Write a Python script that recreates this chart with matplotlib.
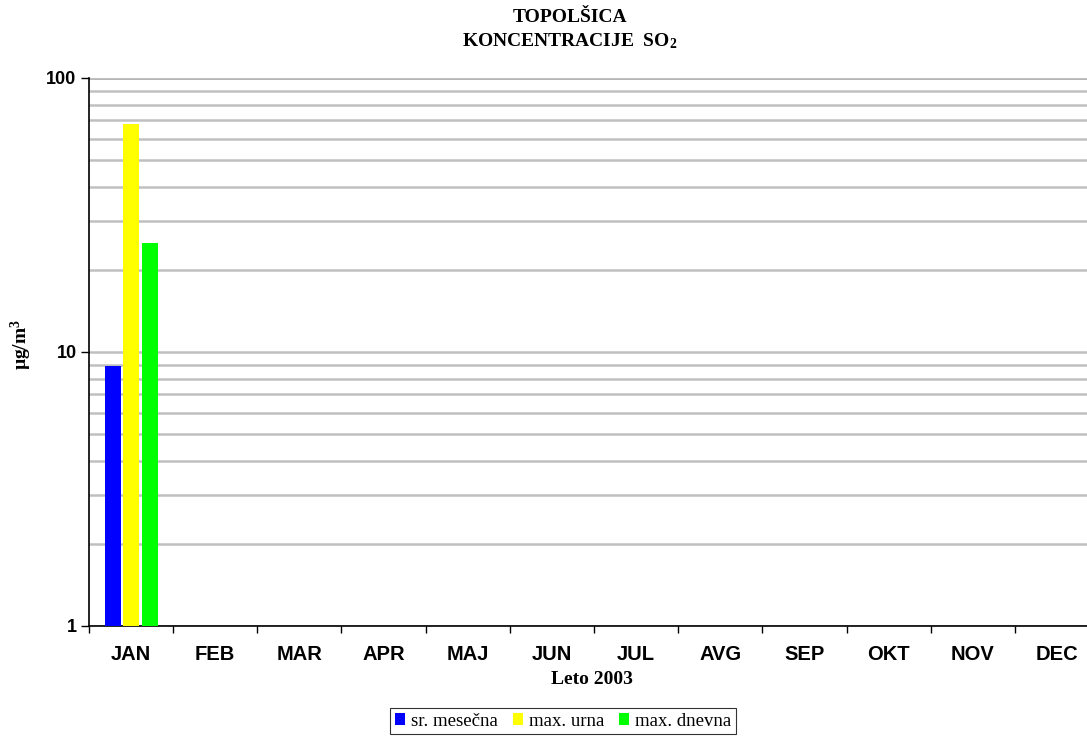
import numpy as np
import matplotlib
matplotlib.use("Agg")
import matplotlib.pyplot as plt
from matplotlib.ticker import LogLocator, NullFormatter, FixedLocator

# ─── Data ────────────────────────────────────────────────────────────────────
months = ["JAN", "FEB", "MAR", "APR", "MAJ", "JUN",
          "JUL", "AVG", "SEP", "OKT", "NOV", "DEC"]
sr_mesecna = [8.9] + [np.nan] * 11
max_urna = [68] + [np.nan] * 11
max_dnevna = [25] + [np.nan] * 11
series_names = ["sr. mesečna", "max. urna", "max. dnevna"]
series_colors = ["#0000ff", "#ffff00", "#00ff00"]

plt.rcParams["mathtext.fontset"] = "custom"
plt.rcParams["mathtext.rm"] = "Liberation Serif:bold"
plt.rcParams["mathtext.it"] = "Liberation Serif:bold"
plt.rcParams["mathtext.bf"] = "Liberation Serif:bold"

W, H = 1087, 736
fig = plt.figure(figsize=(W / 100, H / 100), dpi=100)
# axes extends slightly past the right edge, like the original (clipped)
left, right, top, bottom = 89, 1099, 78, 626
ax = fig.add_axes([left / W, 1 - bottom / H, (right - left) / W, (bottom - top) / H])

x = np.arange(len(months))
bw = 0.19
offsets = [-0.22, 0.0, 0.22]
for vals, name, col, off in zip([sr_mesecna, max_urna, max_dnevna],
                                series_names, series_colors, offsets):
    ax.bar(x + off, vals, width=bw, color=col, label=name, zorder=3)

ax.set_yscale("log")
ax.set_ylim(1, 100)
ax.set_xlim(-0.5, len(months) - 0.5)

# gridlines at every minor + major step
ax.yaxis.set_major_locator(FixedLocator([1, 10, 100]))
ax.yaxis.set_minor_locator(LogLocator(base=10, subs=np.arange(2, 10)))
ax.yaxis.set_minor_formatter(NullFormatter())
ax.set_yticklabels(["1", "10", "100"], fontfamily="Liberation Sans",
                   fontweight="bold", fontsize=13)
ax.grid(True, which="both", axis="y", color="#c0c0c0", linewidth=1.8, zorder=0)
ax.tick_params(axis="y", which="minor", length=0)
ax.tick_params(axis="y", which="major", length=6, width=1, direction="out", pad=3)

# x ticks between categories, labels centred
ax.set_xticks(x)
ax.set_xticklabels(months, fontfamily="Liberation Sans", fontweight="bold", fontsize=14.5)
ax.set_xticks(np.arange(-0.5, len(months)), minor=True)
ax.tick_params(axis="x", which="major", length=0, pad=14)
ax.tick_params(axis="x", which="minor", length=5, width=1, direction="out")

for s in ["top", "right"]:
    ax.spines[s].set_visible(False)
ax.spines["left"].set_linewidth(1.2)
ax.spines["bottom"].set_linewidth(1.2)
ax.axhline(100, color="#808080", linewidth=1.8, zorder=1)

# ─── Texts ───────────────────────────────────────────────────────────────────
fig.text(570 / W, 1 - 18 / H, "TOPOLŠICA", ha="center", va="center",
         fontfamily="Liberation Serif", fontweight="bold", fontsize=14)
fig.text(570 / W, 1 - 41 / H, "KONCENTRACIJE  SO$_2$", ha="center", va="center",
         fontfamily="Liberation Serif", fontweight="bold", fontsize=14)
fig.text(592 / W, 1 - 680 / H, "Leto 2003", ha="center", va="center",
         fontfamily="Liberation Serif", fontweight="bold", fontsize=14)
fig.text(21 / W, 1 - 344 / H, "µg/m$^3$", ha="center", va="center", rotation=90,
         fontfamily="Liberation Serif", fontweight="bold", fontsize=14)

leg = fig.legend(loc="center", bbox_to_anchor=(563 / W, 1 - 721 / H), ncol=3,
                 frameon=True, fancybox=False, edgecolor="black",
                 prop={"family": "Liberation Serif", "size": 13.5},
                 handlelength=0.55, handleheight=0.55, handletextpad=0.3,
                 columnspacing=0.8, borderpad=0.25, borderaxespad=0)
leg.get_frame().set_linewidth(0.8)

plt.savefig("out.png", dpi=100)
plt.close()
